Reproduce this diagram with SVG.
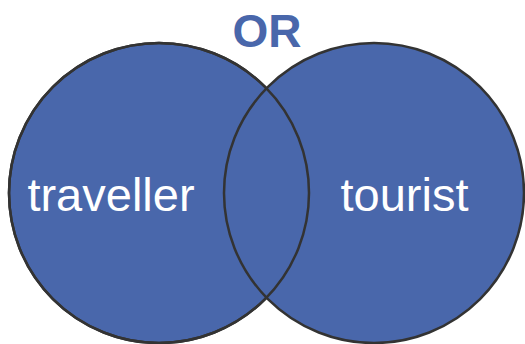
<svg xmlns="http://www.w3.org/2000/svg" width="525" height="344" viewBox="0 0 525 344">
<style>
.set{fill:#4967AB;stroke:#333333;stroke-width:2.5}
.lbl{font-family:"Liberation Sans",Arial,sans-serif;font-size:47px;fill:#ffffff}
.title{font-family:"Liberation Sans",Arial,sans-serif;font-size:46px;font-weight:bold;fill:#4967AB}
</style>
<rect width="525" height="344" fill="#ffffff"/>
<g id="title"><text class="title" x="267" y="47" text-anchor="middle">OR</text></g>
<g id="set-traveller"><circle class="set" cx="159" cy="193" r="150" fill-opacity="1"/></g>
<g id="set-tourist"><circle class="set" cx="374" cy="193" r="150"/></g>
<g id="outline"><circle cx="159" cy="193" r="150" fill="none" stroke="#333333" stroke-width="2.5"/></g>
<g id="labels">
<text class="lbl" x="111" y="211" text-anchor="middle">traveller</text>
<text class="lbl" x="404.5" y="211" text-anchor="middle">tourist</text>
</g>
<g id="connectors"/>
</svg>
